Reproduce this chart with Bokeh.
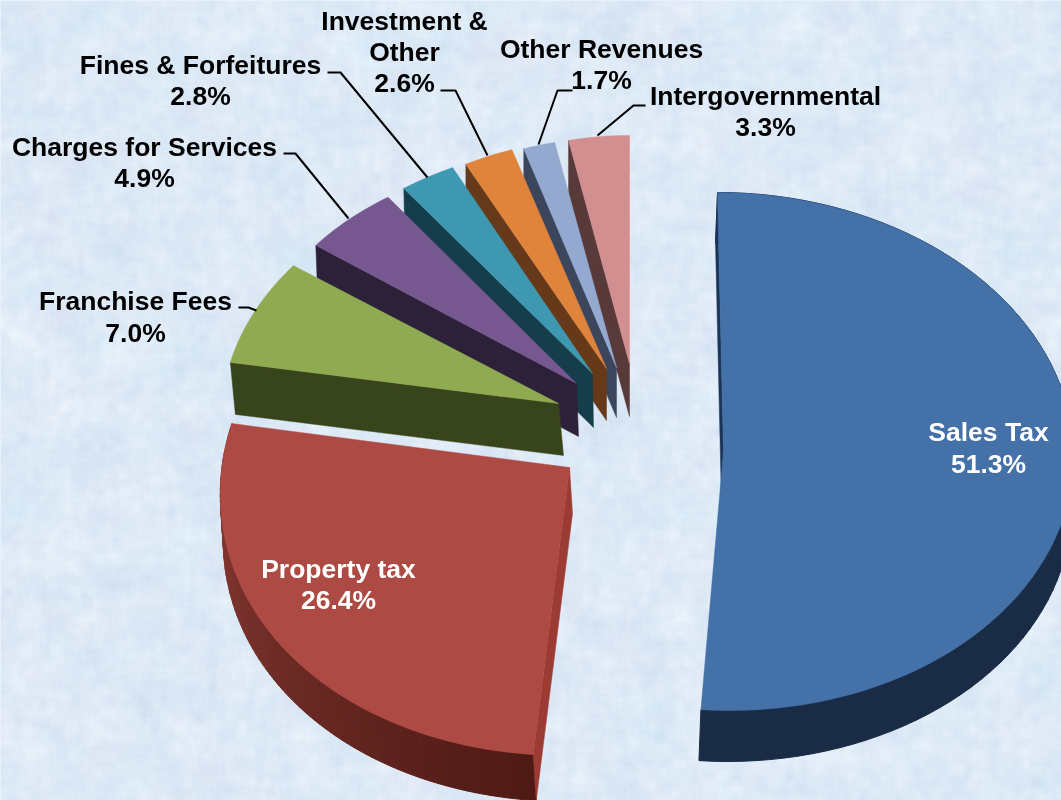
import numpy as np
from bokeh.plotting import figure
from bokeh.embed import file_html
from bokeh.resources import INLINE
from bokeh.core.properties import value

categories = ["Sales Tax", "Property tax", "Franchise Fees", "Charges for Services",
              "Fines & Forfeitures", "Investment & Other", "Other Revenues", "Intergovernmental"]
shares = [51.3, 26.4, 7.0, 4.9, 2.8, 2.6, 1.7, 3.3]
share_labels = ["51.3%", "26.4%", "7.0%", "4.9%", "2.8%", "2.6%", "1.7%", "3.3%"]

# drawing geometry of each exploded 3-D slice (pixels)
cx = [723, 569, 558, 576, 592, 606, 616, 629]      # apex
cy = [451, 467, 403, 383, 373, 368, 367, 363]
ox = [0, 24, 0, 0, 0, 0, 0, 0]                     # ellipse centre relative to apex
oy = [0, 4, 0, 0, 0, 0, 0, 0]
rx = [350, 372, 336, 327, 323, 306, 300, 296]
ry = [259, 284, 240, 227, 229, 230, 230, 228]
sx = [-6, 30, 18, 13, 9.7, 0, 0, 0]
sy = [0, 0, 0.6, 10, 5.4, 0, 0, 0]
depth = [51, 46, 52, 53, 54, 52, 50, 53]
ddx = [-2, 3, 5, 2, 1, 0, 0, 0]
top_colors = ["#4371a8", "#ae4a44", "#90aa52", "#76578f", "#3f98b1", "#e0843c", "#93a9cf", "#d28f8f"]
cut_colors = ["#1a3558", "#9c3a34", "#38441b", "#2d2139", "#163e4a", "#65391a", "#3b465c", "#583a3a"]

W, H = 1061, 800
p = figure(width=W, height=H, x_range=(0, W), y_range=(H, 0), toolbar_location=None,
           output_backend="svg", min_border=0, outline_line_color=None,
           background_fill_color="#dfeaf8", border_fill_color="#dfeaf8")
p.axis.visible = False
p.grid.visible = False
p.styles = {"position": "fixed", "top": "0px", "left": "0px"}

# paper texture: deterministic sine-hash field, softened at two scales
tw, th = 530, 400
gy, gx = np.mgrid[0:th, 0:tw]
def hash_noise(f1, f2):
    return np.modf(np.abs(np.sin(gx * f1 + gy * f2)) * 43758.5453)[0] - 0.5
def blur(a, k):
    for axis in (0, 1):
        a = sum(np.roll(a, s, axis=axis) for s in range(-k, k + 1)) / (2 * k + 1)
    return a
fine = blur(hash_noise(12.9898, 78.233), 2) * 5
coarse = blur(hash_noise(39.346, 11.135), 8) * 17
lilac = blur(hash_noise(93.989, 67.345), 10) * 19
shade = 5 * (fine + coarse) * 1.6
r = np.clip(222 + shade + 6 * lilac, 0, 255)
g = np.clip(234 + shade * 0.8, 0, 255)
b = np.clip(247 + shade * 0.4, 0, 255)
img = np.zeros((th, tw), dtype=np.uint32)
view = img.view(dtype=np.uint8).reshape((th, tw, 4))
view[..., 0] = r; view[..., 1] = g; view[..., 2] = b; view[..., 3] = 255
p.image_rgba(image=[img], x=0, y=0, dw=W, dh=H)

bounds = np.cumsum([0.0] + shares) / sum(shares) * 2 * np.pi

def arc(i, n=80):
    t = np.linspace(bounds[i], bounds[i + 1], n)
    x = cx[i] + ox[i] + rx[i] * np.sin(t) + sx[i] * np.cos(t)
    y = cy[i] + oy[i] - ry[i] * np.cos(t) + sy[i] * np.sin(t)
    return x, y

def mix(c1, c2, f):
    a = [int(c1[k:k + 2], 16) for k in (1, 3, 5)]
    b_ = [int(c2[k:k + 2], 16) for k in (1, 3, 5)]
    return "#%02x%02x%02x" % tuple(int(u + (v - u) * f) for u, v in zip(a, b_))

side_ends = {0: ("#1a2c45", "#1a2c45"), 1: ("#4f1a15", "#8c3c35")}

for i in [7, 6, 5, 4, 3, 2, 0, 1]:
    x, y = arc(i)
    d, dd = depth[i], ddx[i]
    # outer rim (only the front-facing slices show it)
    if i in side_ends:
        xs, ys, cs = [], [], []
        for k in range(len(x) - 1):
            xs.append([x[k], x[k + 1], x[k + 1] + dd, x[k] + dd])
            ys.append([y[k], y[k + 1], y[k + 1] + d, y[k] + d])
            cs.append(mix(*side_ends[i], k / (len(x) - 2)))
        p.patches(xs, ys, fill_color=cs, line_color=cs, line_width=1)
    # radial cut face
    fx, fy = x[0], y[0]
    p.patch([fx, cx[i], cx[i] + dd, fx + dd], [fy, cy[i], cy[i] + d, fy + d],
            fill_color=cut_colors[i], line_color=cut_colors[i], line_width=0.5)
    # top face
    p.patch(list(x) + [cx[i]], list(y) + [cy[i]], fill_color=top_colors[i],
            line_color=top_colors[i], line_width=0.5)

# leader lines
lead_x = [[238, 248, 256], [283, 295, 348], [327, 340, 427], [440, 455, 487], [572, 557, 538], [645, 633, 597]]
lead_y = [[307, 307, 310], [153, 153, 218], [72, 72, 177], [90, 90, 155], [90, 90, 144], [105, 105, 135]]
p.multi_line(lead_x, lead_y, line_color="#000000", line_width=2)

# labels
text_lines = ["Sales Tax", share_labels[0], "Property tax", share_labels[1],
              "Franchise Fees", share_labels[2], "Charges for Services", share_labels[3],
              "Fines & Forfeitures", share_labels[4], "Investment &", "Other", share_labels[5],
              "Other Revenues", share_labels[6], "Intergovernmental", share_labels[7]]
text_x = [988, 988, 338, 338, 135, 135, 144, 144, 200, 200, 404, 404, 404, 601, 601, 765, 765]
text_y = [431, 463, 568, 599, 300, 332, 146, 177, 64, 95, 20, 51, 82, 48, 79, 95, 126]
text_c = ["#ffffff"] * 4 + ["#000000"] * 13
p.text(text_x, text_y, text=text_lines, text_color=text_c, text_font=value("Liberation Sans"),
       text_font_style="bold", text_font_size="26.5px", text_align="center", text_baseline="middle")

open("out.html", "w").write(file_html(p, INLINE))
